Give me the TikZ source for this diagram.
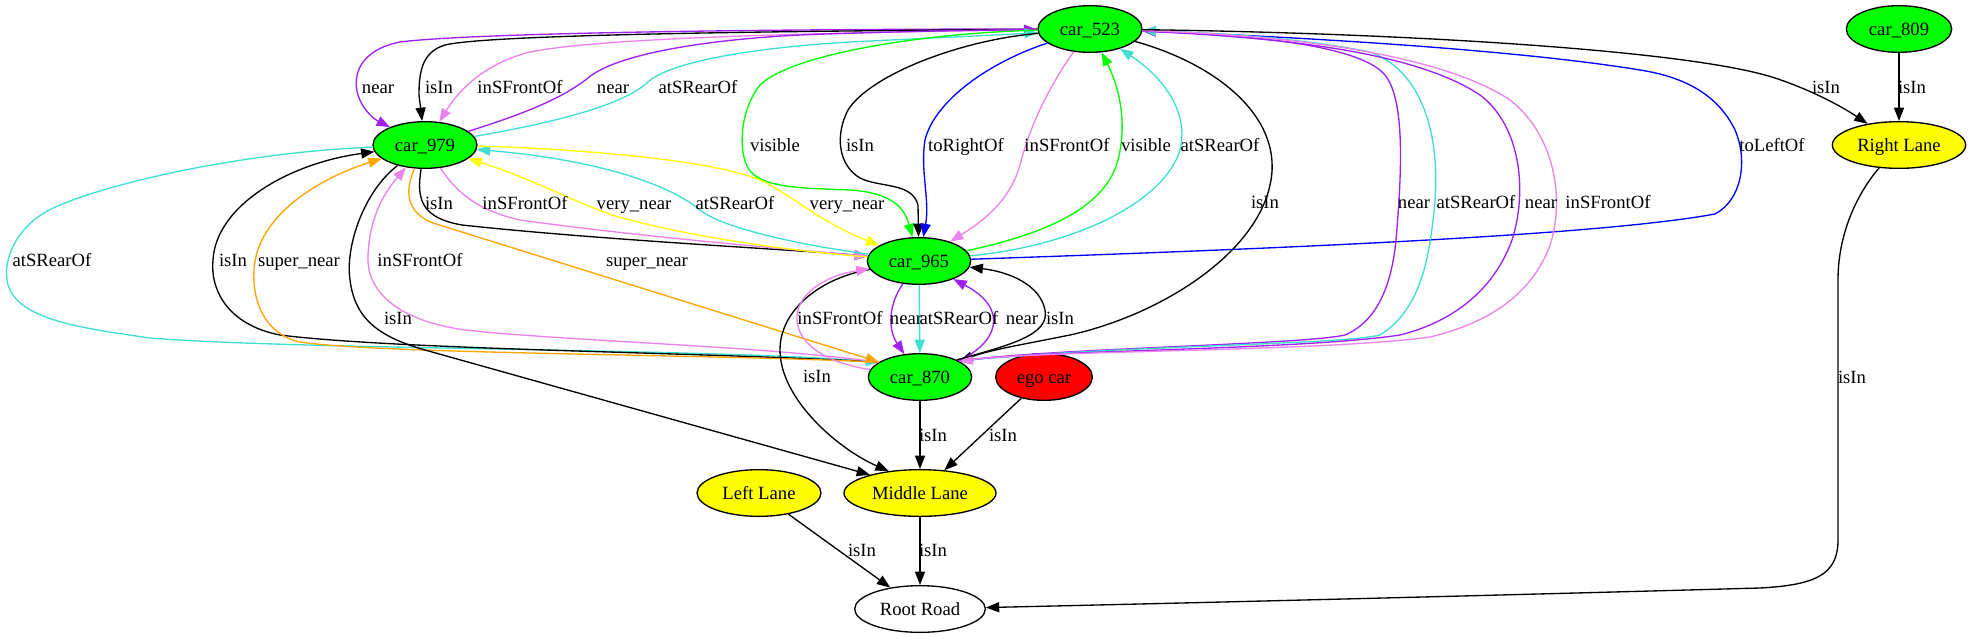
\documentclass[tikz,border=0pt]{standalone}
\usepackage{fontspec}
\setmainfont{Liberation Serif}
\usetikzlibrary{arrows.meta,shapes.geometric}
\definecolor{cpurple}{HTML}{A020F0}
\definecolor{cviolet}{HTML}{EE82EE}
\definecolor{cturq}{HTML}{40E0D0}
\definecolor{cgreen}{HTML}{00FF00}
\definecolor{cyellow}{HTML}{FFFF00}
\definecolor{corange}{HTML}{FFA500}
\definecolor{cblue}{HTML}{0000FF}
\definecolor{cred}{HTML}{FF0000}
\begin{document}
\begin{tikzpicture}[x=0.75pt,y=-0.75pt,
  gv/.style={draw,ellipse,line width=1pt,inner sep=0pt,minimum height=35pt,text height=9.5pt,text depth=0pt,font=\fontsize{14}{16}\selectfont},
  lb/.style={inner sep=0pt,text height=9.5pt,text depth=0pt,font=\fontsize{14}{16}\selectfont},
  ed/.style={line width=1pt,-{Triangle[length=10pt,width=7.5pt]}}]
\useasboundingbox (0,0) rectangle (1971,639);
\fill[white] (0,0) rectangle (1971,639);
% nodes
\node[gv,fill=cgreen,minimum width=78pt] (c523) at (1090,29) {car\_523};
\node[gv,fill=cgreen,minimum width=79pt] (c809) at (1899,29) {car\_809};
\node[gv,fill=cyellow,minimum width=100pt] (RL) at (1899,145) {Right Lane};
\node[gv,fill=cgreen,minimum width=78pt] (c979) at (425,145) {car\_979};
\node[gv,fill=cgreen,minimum width=77.5pt] (c965) at (919,261) {car\_965};
\node[gv,fill=cgreen,minimum width=77.5pt] (c870) at (920,377) {car\_870};
\node[gv,fill=cred,minimum width=72.5pt] (ego) at (1044,377) {ego car};
\node[gv,fill=cyellow,minimum width=93pt] (LL) at (759,493) {Left Lane};
\node[gv,fill=cyellow,minimum width=114pt] (ML) at (920,493) {Middle Lane};
\node[gv,fill=white,minimum width=98pt] (RR) at (920,609) {Root Road};
% car_523 <-> car_979
\draw[ed,cpurple] (c523) .. controls (800,29) and (480,32) .. (400,42) .. controls (360,50) and (352,75) .. (358,95) .. controls (362,108) and (372,118) .. (c979);
\draw[ed,black] (c523) .. controls (800,31) and (490,34) .. (445,45) .. controls (422,52) and (419,72) .. (419,95) -- (c979);
\draw[ed,cviolet] (c523) .. controls (800,33) and (600,38) .. (530,52) .. controls (490,62) and (462,85) .. (c979);
\draw[ed,cpurple] (c979) .. controls (520,115) and (560,100) .. (588,78) .. controls (615,55) and (700,40) .. (800,35) .. controls (900,31) and (1000,30) .. (c523);
\draw[ed,cturq] (c979) .. controls (540,125) and (620,108) .. (648,82) .. controls (670,62) and (750,48) .. (850,42) .. controls (950,37) and (1000,35) .. (c523);
% car_523 <-> car_965
\draw[ed,cgreen] (c523) .. controls (920,33) and (790,55) .. (760,85) .. controls (740,110) and (738,150) .. (748,168) .. controls (760,188) and (800,188) .. (850,190) .. controls (895,193) and (905,210) .. (c965);
\draw[ed,black] (c523) .. controls (960,40) and (870,75) .. (848,110) .. controls (835,135) and (838,165) .. (860,178) .. controls (880,188) and (912,182) .. (918,205) -- (c965);
\draw[ed,cblue] (c523) .. controls (990,62) and (935,100) .. (925,140) .. controls (920,170) and (930,200) .. (c965);
\draw[ed,cviolet] (c523) .. controls (1050,85) and (1030,125) .. (1020,165) .. controls (1010,200) and (985,220) .. (c965);
\draw[ed,cgreen] (c965) .. controls (1040,235) and (1105,210) .. (1118,160) .. controls (1128,120) and (1118,85) .. (c523);
\draw[ed,cturq] (c965) .. controls (1080,245) and (1165,200) .. (1180,150) .. controls (1190,110) and (1160,75) .. (c523);
\draw[ed,cblue] (c965) .. controls (1300,248) and (1600,235) .. (1715,214) .. controls (1742,200) and (1748,160) .. (1735,130) .. controls (1718,95) and (1685,77) .. (1640,70) .. controls (1500,47) and (1250,35) .. (c523);
% car_523 <-> car_870
\draw[ed,black] (c523) .. controls (1220,65) and (1285,120) .. (1270,185) .. controls (1255,255) and (1160,315) .. (1070,335) .. controls (1020,345) and (990,350) .. (c870.22);
\draw[ed,cpurple] (c870.22) .. controls (1050,348) and (1300,345) .. (1345,335) .. controls (1380,320) and (1392,280) .. (1396,240) .. controls (1402,170) and (1405,100) .. (1385,75) .. controls (1360,45) and (1250,35) .. (c523);
\draw[ed,cturq] (c870.22) .. controls (1100,346) and (1340,345) .. (1380,335) .. controls (1420,310) and (1430,260) .. (1435,200) .. controls (1440,130) and (1420,70) .. (1370,52) .. controls (1300,38) and (1220,33) .. (c523);
\draw[ed,cpurple] (c523) .. controls (1300,38) and (1420,55) .. (1480,95) .. controls (1520,125) and (1528,190) .. (1512,240) .. controls (1490,300) and (1440,325) .. (1400,335) .. controls (1300,350) and (1050,350) .. (c870.22);
\draw[ed,cviolet] (c523) .. controls (1320,36) and (1450,60) .. (1510,100) .. controls (1555,135) and (1565,200) .. (1550,245) .. controls (1530,300) and (1480,325) .. (1430,337) .. controls (1320,352) and (1050,350) .. (c870.22);
% lanes right
\draw[ed,black] (c523) .. controls (1400,33) and (1690,50) .. (1775,78) .. controls (1820,93) and (1850,112) .. (RL);
\draw[ed,black] (c809) -- (RL);
\draw[ed,black] (RL) .. controls (1860,190) and (1838,230) .. (1838,280) -- (1838,540) .. controls (1838,575) and (1815,585) .. (1760,588) .. controls (1400,598) and (1100,605) .. (RR);
% car_979 <-> car_965
\draw[ed,black] (c979) .. controls (416,200) and (422,218) .. (462,225) .. controls (600,240) and (800,250) .. (c965);
\draw[ed,cviolet] (c979) .. controls (455,190) and (475,210) .. (520,220) .. controls (650,238) and (800,250) .. (c965);
\draw[ed,cyellow] (c965) .. controls (780,250) and (680,235) .. (612,215) .. controls (570,200) and (530,178) .. (c979);
\draw[ed,cturq] (c965) .. controls (800,245) and (722,228) .. (700,210) .. controls (670,185) and (600,160) .. (c979);
\draw[ed,cyellow] (c979) .. controls (560,148) and (700,158) .. (755,178) .. controls (790,192) and (815,220) .. (c965);
% car_979 <-> car_870
\draw[ed,cturq] (c979) .. controls (250,152) and (120,180) .. (60,205) .. controls (10,225) and (0,270) .. (10,290) .. controls (25,320) and (80,328) .. (150,338) .. controls (300,350) and (700,348) .. (c870.160);
\draw[ed,black] (c870.160) .. controls (700,352) and (400,350) .. (280,335) .. controls (228,325) and (210,290) .. (213,260) .. controls (216,205) and (290,163) .. (c979);
\draw[ed,corange] (c870.160) .. controls (700,354) and (380,354) .. (300,342) .. controls (264,334) and (252,300) .. (254,270) .. controls (257,215) and (320,178) .. (c979);
\draw[ed,cviolet] (c870.160) .. controls (750,345) and (580,342) .. (465,330) .. controls (395,320) and (366,290) .. (368,255) .. controls (370,215) and (385,192) .. (c979);
\draw[ed,corange] (c979) .. controls (405,190) and (405,212) .. (433,223) -- (c870.160);
% to Middle Lane
\draw[ed,black] (c979) .. controls (365,190) and (345,245) .. (350,280) .. controls (355,320) and (380,337) .. (425,350) -- (ML.160);
\draw[ed,black] (c965) .. controls (820,278) and (780,310) .. (780,350) .. controls (780,400) and (840,450) .. (ML.145);
% car_965 <-> car_870
\draw[ed,cviolet] (c870) .. controls (820,362) and (795,340) .. (797,315) .. controls (800,290) and (830,275) .. (c965);
\draw[ed,cpurple] (c965) .. controls (888,305) and (888,330) .. (c870);
\draw[ed,cturq] (c965) -- (c870);
\draw[ed,cpurple] (c870) .. controls (995,345) and (1012,310) .. (c965);
\draw[ed,black] (c870.25) .. controls (1010,345) and (1050,335) .. (1045,310) .. controls (1040,285) and (1010,272) .. (c965);
% bottom
\draw[ed,black] (c870) -- (ML);
\draw[ed,black] (ego) -- (ML);
\draw[ed,black] (LL) -- (RR);
\draw[ed,black] (ML) -- (RR);
% labels
\node[lb] (t1) at (378,87) {near};
\node[lb] (t2) at (439,87) {isIn};
\node[lb] (t3) at (520,87) {inSFrontOf};
\node[lb] (t4) at (613,87) {near};
\node[lb] (t5) at (698,87) {atSRearOf};
\node[lb] (t6) at (1826,87) {isIn};
\node[lb] (t7) at (1912,87) {isIn};
\node[lb] (t8) at (775,145) {visible};
\node[lb] (t9) at (860,145) {isIn};
\node[lb] (t10) at (966,145) {toRightOf};
\node[lb] (t11) at (1067,145) {inSFrontOf};
\node[lb] (t12) at (1146,145) {visible};
\node[lb] (t13) at (1220,145) {atSRearOf};
\node[lb] (t14) at (1772,145) {toLeftOf};
\node[lb] (t15) at (439,203) {isIn};
\node[lb] (t16) at (525,203) {inSFrontOf};
\node[lb] (t17) at (634,203) {very\_near};
\node[lb] (t18) at (735,203) {atSRearOf};
\node[lb] (t19) at (847,203) {very\_near};
\node[lb] (t20) at (1265,202) {isIn};
\node[lb] (t21) at (1414,202) {near};
\node[lb] (t22) at (1476,202) {atSRearOf};
\node[lb] (t23) at (1541,202) {near};
\node[lb] (t24) at (1608,202) {inSFrontOf};
\node[lb] (t25) at (52,260) {atSRearOf};
\node[lb] (t26) at (233,260) {isIn};
\node[lb] (t27) at (299,260) {super\_near};
\node[lb] (t28) at (420,260) {inSFrontOf};
\node[lb] (t29) at (647,260) {super\_near};
\node[lb] (t30) at (398,318) {isIn};
\node[lb] (t31) at (840,318) {inSFrontOf};
\node[lb] (t32) at (906,318) {near};
\node[lb] (t33) at (959,318) {atSRearOf};
\node[lb] (t34) at (1022,318) {near};
\node[lb] (t35) at (1060,318) {isIn};
\node[lb] (t36) at (817,376) {isIn};
\node[lb] (t37) at (1852,377) {isIn};
\node[lb] (t38) at (933,435) {isIn};
\node[lb] (t39) at (1003,435) {isIn};
\node[lb] (t40) at (862,550) {isIn};
\node[lb] (t41) at (933,550) {isIn};
\end{tikzpicture}
\end{document}
